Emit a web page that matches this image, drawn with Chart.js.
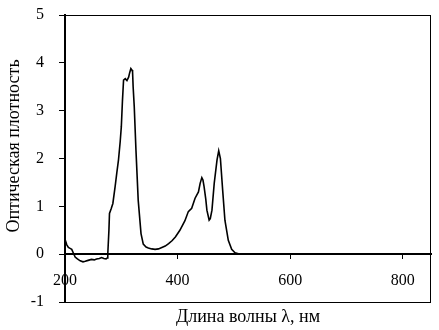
<!DOCTYPE html>
<html>
<head>
<meta charset="utf-8">
<script src="https://cdn.jsdelivr.net/npm/chart.js@4/dist/chart.umd.min.js"></script>
<style>
  html, body { margin: 0; padding: 0; background: #fff; }
  #wrap { width: 439px; height: 330px; }
</style>
</head>
<body>
<div id="wrap"><canvas id="spectrum"></canvas></div>
<script>
// Absorption spectrum
let wavelengths = [200, 203, 206, 209, 212, 215, 218, 222, 227, 232, 236, 241, 247, 252, 256, 261, 265, 269, 273, 275,
    276, 278, 279, 282, 285, 289, 292, 295, 298, 300, 302, 304, 307, 310, 313, 315, 317, 319, 320, 321,
    323, 326, 330, 335, 339, 344, 348, 354, 360, 366, 372, 378, 384, 390, 396, 404, 413, 419, 425, 431,
    437, 440, 443, 445, 447, 450, 452, 456, 458, 461, 465, 470, 473, 476, 480, 484, 490, 496, 502, 508, 520];
let density = [0.31, 0.20, 0.14, 0.12, 0.10, 0.02, -0.06, -0.10, -0.14, -0.16, -0.15, -0.13, -0.11, -0.12, -0.10, -0.09, -0.07, -0.09, -0.10, -0.08,
    0.01, 0.50, 0.85, 0.95, 1.06, 1.41, 1.70, 1.97, 2.35, 2.66, 3.20, 3.64, 3.67, 3.63, 3.70, 3.80, 3.88, 3.85, 3.81, 3.50,
    3.08, 2.18, 1.13, 0.43, 0.21, 0.15, 0.13, 0.11, 0.10, 0.11, 0.14, 0.17, 0.22, 0.28, 0.36, 0.50, 0.70, 0.89, 0.96, 1.17,
    1.30, 1.48, 1.60, 1.55, 1.41, 1.15, 0.92, 0.71, 0.74, 0.92, 1.48, 1.97, 2.16, 2.00, 1.34, 0.71, 0.29, 0.10, 0.03, 0.01, 0];

let xTicks = [200, 400, 600, 800];
let yTicks = [-1, 0, 1, 2, 3, 4, 5];
let xTitle = "Длина волны λ, нм";
let yTitle = "Оптическая плотность";

const serif = "'Liberation Serif', 'Times New Roman', serif";

// frame around plot + axis titles
const framePlugin = {
    id: 'frame',
    afterDraw(c) {
        let a = c.chartArea;
        let ctx = c.ctx;
        ctx.save();
        ctx.strokeStyle = '#000';
        ctx.lineWidth = 1;
        ctx.strokeRect(a.left + 0.5, a.top + 0.5, a.right - a.left - 1, a.bottom - a.top);
        ctx.fillStyle = '#000';
        ctx.font = "18px " + serif;
        ctx.textAlign = 'center';
        ctx.textBaseline = 'middle';
        ctx.fillText(xTitle, 248, 317);
        ctx.translate(14, 146);
        ctx.rotate(-Math.PI / 2);
        ctx.fillText(yTitle, 0, 0);
        ctx.restore();
    }
};

let ctx = document.getElementById('spectrum').getContext('2d');
let chart = new Chart(ctx, {
    type: 'line',
    data: {
        datasets: [{
            data: wavelengths.map((w, i) => ({ x: w, y: density[i] })),
            borderColor: '#000',
            borderWidth: 1.6,
            pointRadius: 0,
            tension: 0,
            fill: false
        }]
    },
    options: {
        responsive: true,
        maintainAspectRatio: false,
        animation: false,
        layout: { padding: { top: 15, right: 8, bottom: 28, left: 0 } },
        plugins: {
            legend: { display: false },
            tooltip: { enabled: false }
        },
        scales: {
            x: {
                type: 'linear',
                min: 200,
                max: 850,
                position: { y: 0 },
                afterBuildTicks: s => { s.ticks = xTicks.map(v => ({ value: v })); },
                afterFit: s => { s.height = 0; },
                grid: { drawOnChartArea: false, drawTicks: true, tickLength: 4, color: '#000', lineWidth: 1 },
                border: { color: '#000', width: 2 },
                ticks: { color: '#000', font: { family: serif, size: 16 }, padding: 13, maxRotation: 0 }
            },
            y: {
                min: -1,
                max: 5,
                afterBuildTicks: s => { s.ticks = yTicks.map(v => ({ value: v })); },
                afterFit: s => { s.width = 65; s.paddingTop = 0; s.paddingBottom = 0; },
                grid: { drawOnChartArea: false, drawTicks: true, tickLength: 6, color: '#000', lineWidth: 1 },
                border: { color: '#000', width: 2 },
                ticks: { color: '#000', font: { family: serif, size: 16 }, padding: 15 }
            }
        }
    },
    plugins: [framePlugin]
});
</script>
</body>
</html>
